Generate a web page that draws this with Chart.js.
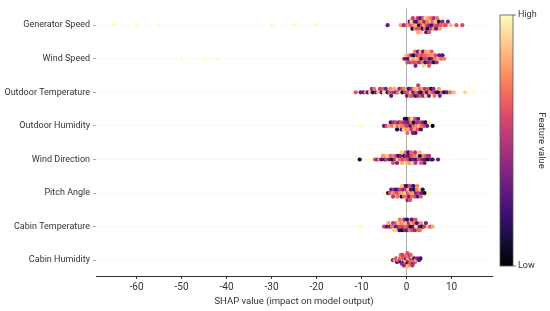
<!DOCTYPE html>
<html lang="en">
<head>
    <meta charset="UTF-8">
    <title>SHAP summary</title>
    <script src="https://cdn.jsdelivr.net/npm/chart.js"></script>
    <style>
        body { margin: 0; background: #fff; }
        canvas { display: block; }
    </style>
</head>
<body>
    <canvas id="shapChart" width="550" height="311"></canvas>

    <script>
        // features, top to bottom
        const features = ["Generator Speed", "Wind Speed", "Outdoor Temperature", "Outdoor Humidity",
                          "Wind Direction", "Pitch Angle", "Cabin Temperature", "Cabin Humidity"];

        // SHAP values per feature
        const genSpeedShap = [-65, -60, -55, -30, -25, -20, -4.2, -1.3, -0.6,
            0.1, 0.4, 0.7, 0.9, 1.1, 1.3, 1.4, 1.6, 1.8, 1.9,
            2.1, 2.2, 2.4, 2.5, 2.6, 2.8, 2.9, 3.0, 3.1, 3.2,
            3.4, 3.5, 3.6, 3.7, 3.9, 4.0, 4.1, 4.2, 4.4, 4.5,
            4.6, 4.7, 4.9, 5.0, 5.1, 5.3, 5.4, 5.5, 5.7, 5.8,
            6.0, 6.1, 6.3, 6.4, 6.6, 6.8, 7.0, 7.2, 7.4, 7.7,
            8.0, 8.3, 8.7, 9.2, 9.8, 11.1, 12.4];
        const windSpeedShap = [-50, -45, -42,
            -0.6, -0.3, 0.0, 0.2, 0.4, 0.6, 0.8, 1.0, 1.1, 1.3,
            1.5, 1.6, 1.8, 1.9, 2.0, 2.2, 2.3, 2.5, 2.6, 2.7,
            2.9, 3.0, 3.1, 3.3, 3.4, 3.5, 3.7, 3.8, 3.9, 4.1,
            4.2, 4.3, 4.5, 4.6, 4.8, 4.9, 5.0, 5.2, 5.3, 5.5,
            5.6, 5.8, 6.0, 6.1, 6.3, 6.5, 6.7, 7.0, 7.3, 7.7,
            8.0, 8.4];
        const outTempShap = [-11.3, -10.2, -9.6, -9.0, -8.6, -8.1, -7.7, -7.5, -7.2, -6.8,
            -6.3, -5.9, -5.5, -5.2, -5.0, -4.6, -4.2, -3.8, -3.6, -3.4,
            -3.0, -2.7, -2.3, -2.0, -1.6, -1.3, -1.0, -0.9, -0.6, -0.3,
            0.0, 0.1, 0.3, 0.5, 0.8, 1.0, 1.1, 1.3, 1.5, 1.7,
            2.0, 2.1, 2.2, 2.4, 2.6, 2.9, 3.0, 3.1, 3.3, 3.6,
            3.8, 4.0, 4.1, 4.3, 4.6, 4.9, 5.0, 5.2, 5.5, 5.9,
            6.0, 6.2, 6.6, 7.0, 7.2, 7.4, 7.9, 8.4, 9.0, 9.7,
            10.5, 13.0, 14.9];
        const outHumShap = [-10.0, -5.0, -4.4, -3.9, -3.5, -3.2, -2.9, -2.6, -2.4, -2.1,
            -1.9, -1.7, -1.5, -1.3, -1.1, -0.9, -0.7, -0.6, -0.4, -0.2,
            -0.1, 0.0, 0.1, 0.2, 0.3, 0.5, 0.6, 0.7, 0.9, 1.0,
            1.1, 1.2, 1.4, 1.5, 1.6, 1.8, 1.9, 2.0, 2.2, 2.3,
            2.5, 2.6, 2.8, 3.0, 3.2, 3.4, 3.6, 3.9, 4.2, 4.6,
            5.0, 5.8];
        const windDirShap = [-12.0, -10.4, -8.0, -7.0, -6.5, -6.0, -5.6, -5.2, -4.8, -4.5,
            -4.1, -3.8, -3.5, -3.2, -2.9, -2.6, -2.3, -2.0, -1.8, -1.5,
            -1.3, -1.0, -0.8, -0.5, -0.3, -0.1, 0.1, 0.3, 0.5, 0.7,
            0.9, 1.1, 1.3, 1.5, 1.8, 2.0, 2.2, 2.5, 2.7, 3.0,
            3.2, 3.5, 3.8, 4.1, 4.4, 4.7, 5.0, 5.4, 5.8, 7.0,
            -5.0, -3.0, -2.1, -1.1, -0.2, 0.4, 1.0, 1.9, 2.9, 4.0];
        const pitchShap = [-5.0, -4.1, -3.7, -3.4, -3.1, -2.8, -2.6, -2.3, -2.1, -1.9,
            -1.7, -1.5, -1.3, -1.1, -0.9, -0.8, -0.6, -0.4, -0.3, -0.1,
            0.0, 0.1, 0.3, 0.4, 0.6, 0.7, 0.9, 1.0, 1.2, 1.3,
            1.5, 1.7, 1.9, 2.1, 2.3, 2.5, 2.7, 3.0, 3.3, 3.6,
            4.0, 5.0, -2.0, -1.0, 0.2, 0.8, 1.6, 2.4, -3.0, 3.2];
        const cabTempShap = [-10.0, -5.0, -4.4, -4.0, -3.6, -3.3, -3.0, -2.7, -2.4, -2.2,
            -2.0, -1.8, -1.6, -1.4, -1.2, -1.0, -0.8, -0.6, -0.4, -0.2,
            0.0, 0.2, 0.3, 0.5, 0.7, 0.9, 1.1, 1.3, 1.5, 1.7,
            1.9, 2.1, 2.3, 2.6, 2.9, 3.2, 3.5, 3.9, 4.3, 4.8,
            5.3, 5.8, -1.5, -0.5, 0.6, 1.2, 2.0, -2.5, 0.1, 3.0];
        const cabHumShap = [-4.0, -3.0, -2.6, -2.3, -2.1, -1.9, -1.7, -1.5, -1.4, -1.2,
            -1.1, -1.0, -0.8, -0.7, -0.6, -0.5, -0.4, -0.3, -0.2, -0.1,
            0.0, 0.1, 0.2, 0.3, 0.4, 0.5, 0.6, 0.7, 0.8, 0.9,
            1.0, 1.1, 1.2, 1.4, 1.5, 1.7, 1.9, 2.1, 2.4, 2.8,
            3.1, -1.3, -0.9, -0.3, 0.2, 0.5, 0.9, 1.3, 0.0, -0.6];

        // normalised feature values (0 = low, 1 = high)
        const genSpeedVal = [1.0, 1.0, 1.0, 1.0, 1.0, 1.0, 0.3, 0.8, 0.45,
            0.6, 0.8, 0.25, 0.65, 0.9, 0.1, 0.55, 0.75, 0.35, 0.7,
            0.85, 0.2, 0.6, 0.5, 0.8, 0.05, 0.7, 0.65, 0.3, 0.88,
            0.55, 0.75, 0.15, 0.6, 0.82, 0.4, 0.68, 0.9, 0.25, 0.58,
            0.72, 0.1, 0.8, 0.62, 0.35, 0.85, 0.5, 0.7, 0.2, 0.66,
            0.78, 0.45, 0.6, 0.88, 0.3, 0.7, 0.55, 0.15, 0.8, 0.65,
            0.4, 0.72, 0.6, 0.35, 0.85, 0.62, 0.58];
        const windSpeedVal = [1.0, 1.0, 1.0,
            0.7, 0.3, 0.85, 0.6, 0.2, 0.75, 0.55, 0.9, 0.4, 0.65,
            0.8, 0.1, 0.6, 0.7, 0.35, 0.88, 0.5, 0.62, 0.25, 0.78,
            0.68, 0.45, 0.82, 0.05, 0.6, 0.72, 0.3, 0.9, 0.55, 0.66,
            0.2, 0.8, 0.58, 0.7, 0.4, 0.85, 0.62, 0.15, 0.75, 0.5,
            0.65, 0.35, 0.8, 0.1, 0.7, 0.6, 0.45, 0.82, 0.3, 0.68,
            0.25, 0.72];
        const outTempVal = [0.62, 0.3, 0.35, 0.8, 0.25, 0.9, 0.4, 0.15, 0.7, 0.3,
            0.85, 0.55, 0.2, 0.65, 0.95, 0.35, 0.1, 0.6, 0.75, 0.3,
            0.5, 0.8, 0.25, 0.68, 0.4, 0.9, 0.6, 0.05, 0.72, 0.55,
            0.82, 0.35, 0.62, 0.2, 0.7, 0.88, 0.45, 0.6, 0.3, 0.78,
            0.15, 0.65, 0.85, 0.4, 0.55, 0.25, 0.7, 0.6, 0.1, 0.8,
            0.35, 0.68, 0.5, 0.9, 0.2, 0.62, 0.3, 0.75, 0.05, 0.58,
            0.4, 0.7, 0.25, 0.1, 0.8, 0.35, 0.6, 0.15, 0.3, 0.7,
            0.85, 0.92, 1.0];
        const outHumVal = [1.0, 0.3, 0.6, 0.8, 0.2, 0.7, 0.45, 0.9, 0.55, 0.1,
            0.65, 0.35, 0.8, 0.6, 0.25, 0.72, 0.5, 0.88, 0.15, 0.62,
            0.4, 0.78, 0.05, 0.68, 0.55, 0.3, 0.85, 0.6, 0.2, 0.7,
            0.5, 0.92, 0.35, 0.65, 0.1, 0.8, 0.58, 0.25, 0.75, 0.45,
            0.62, 0.3, 0.85, 0.55, 0.2, 0.7, 0.4, 0.6, 0.1, 0.3,
            0.95, 0.05];
        const windDirVal = [1.0, 0.05, 1.0, 0.62, 0.4, 0.8, 0.25, 0.7, 0.15, 0.55,
            0.88, 0.3, 0.65, 0.1, 0.75, 0.45, 0.6, 0.9, 0.2, 0.7,
            0.35, 0.82, 0.55, 0.05, 0.68, 0.4, 0.85, 0.6, 0.25, 0.78,
            0.15, 0.62, 0.9, 0.3, 0.7, 0.5, 0.2, 0.8, 0.58, 0.1,
            0.65, 0.35, 0.75, 0.28, 0.6, 0.05, 0.45, 0.3, 0.2, 0.3,
            0.8, 0.6, 0.35, 0.9, 0.7, 0.2, 0.65, 0.5, 0.85, 0.3];
        const pitchVal = [1.0, 0.1, 0.6, 0.3, 0.8, 0.45, 0.7, 0.2, 0.88, 0.55,
            0.35, 0.75, 0.6, 0.05, 0.82, 0.4, 0.65, 0.25, 0.9, 0.5,
            0.7, 0.15, 0.62, 0.85, 0.3, 0.58, 0.78, 0.2, 0.68, 0.45,
            0.8, 0.1, 0.6, 0.35, 0.72, 0.25, 0.55, 0.9, 0.3, 0.15,
            0.05, 1.0, 0.7, 0.85, 0.4, 0.62, 0.2, 0.75, 0.5, 0.65];
        const cabTempVal = [1.0, 0.6, 0.3, 0.8, 0.15, 0.7, 0.5, 0.85, 0.25, 0.65,
            0.4, 0.9, 0.2, 0.62, 0.75, 0.05, 0.55, 0.8, 0.35, 0.7,
            0.88, 0.3, 0.6, 0.45, 0.72, 0.1, 0.82, 0.58, 0.25, 0.68,
            0.4, 0.9, 0.2, 0.65, 0.3, 0.75, 0.05, 0.55, 0.35, 0.85,
            0.6, 0.82, 0.7, 0.45, 0.8, 0.25, 0.62, 0.9, 0.15, 0.7];
        const cabHumVal = [1.0, 0.3, 0.8, 0.6, 0.2, 0.7, 0.88, 0.5, 0.65, 0.15,
            0.75, 0.4, 0.85, 0.6, 0.25, 0.7, 0.55, 0.9, 0.35, 0.8,
            0.62, 0.1, 0.72, 0.5, 0.85, 0.3, 0.68, 0.58, 0.2, 0.78,
            0.45, 0.65, 0.9, 0.35, 0.7, 0.25, 0.6, 0.8, 0.4, 0.3,
            0.2, 0.7, 0.55, 0.82, 0.6, 0.75, 0.65, 0.5, 0.88, 0.4];

        const shapValues = [genSpeedShap, windSpeedShap, outTempShap, outHumShap,
                            windDirShap, pitchShap, cabTempShap, cabHumShap];
        const featureValues = [genSpeedVal, windSpeedVal, outTempVal, outHumVal,
                               windDirVal, pitchVal, cabTempVal, cabHumVal];

        // magma colormap stops
        const magma = ["#000004", "#140e36", "#3b0f70", "#641a80", "#8c2981", "#b73779",
                       "#de4968", "#f7705c", "#fe9f6d", "#fecf92", "#fcfdbf"];

        function hexToRgb(h) {
            return [parseInt(h.slice(1, 3), 16), parseInt(h.slice(3, 5), 16), parseInt(h.slice(5, 7), 16)];
        }

        function magmaColor(t) {
            t = Math.max(0, Math.min(1, t));
            const p = t * (magma.length - 1);
            const i = Math.min(Math.floor(p), magma.length - 2);
            const f = p - i;
            const a = hexToRgb(magma[i]), b = hexToRgb(magma[i + 1]);
            const c = a.map((v, k) => Math.round(v + (b[k] - v) * f));
            return `rgb(${c[0]},${c[1]},${c[2]})`;
        }

        // beeswarm-style vertical offsets (same idea as shap's summary plot)
        function swarmOffsets(xs) {
            const q = xs.map(v => Math.round(v / 0.6));
            const order = xs.map((_, i) => i).sort((a, b) => q[a] - q[b] || a - b);
            const ys = new Array(xs.length).fill(0);
            let layer = 0, last = null;
            for (const i of order) {
                if (q[i] !== last) layer = 0;
                ys[i] = Math.ceil(layer / 2) * ((layer % 2) * 2 - 1);
                layer++;
                last = q[i];
            }
            const m = Math.max(1, ...ys.map(Math.abs));
            return ys.map(v => v / m * 0.21);
        }

        const n = features.length;
        const datasets = features.map((name, fi) => {
            const xs = shapValues[fi];
            const offs = swarmOffsets(xs);
            const row = n - 1 - fi;
            return {
                label: name,
                data: xs.map((x, i) => ({ x: x, y: row + offs[i] })),
                pointBackgroundColor: featureValues[fi].map(v => magmaColor(v)),
                pointBorderWidth: 0,
                pointRadius: 2.1,
                pointHoverRadius: 2.1
            };
        });

        const textColor = "#333333";
        const fontFamily = "Roboto, 'Noto Sans', sans-serif";

        // colour bar on the right
        const colorBar = {
            id: "colorBar",
            afterDraw(chart) {
                const ctx = chart.ctx;
                const x0 = 500, x1 = 513, y0 = 15, y1 = 266;
                ctx.save();
                const g = ctx.createLinearGradient(0, y1, 0, y0);
                magma.forEach((c, i) => g.addColorStop(i / (magma.length - 1), c));
                ctx.fillStyle = g;
                ctx.fillRect(x0, y0, x1 - x0, y1 - y0);
                ctx.strokeStyle = "#555";
                ctx.lineWidth = 0.8;
                ctx.strokeRect(x0, y0, x1 - x0, y1 - y0);
                ctx.beginPath();
                ctx.moveTo(x1, y0); ctx.lineTo(x1 + 3, y0);
                ctx.moveTo(x1, y1); ctx.lineTo(x1 + 3, y1);
                ctx.stroke();
                ctx.fillStyle = textColor;
                ctx.font = `9px ${fontFamily}`;
                ctx.textAlign = "left";
                ctx.textBaseline = "middle";
                ctx.fillText("High", x1 + 5, y0);
                ctx.fillText("Low", x1 + 5, y1);
                ctx.translate(541, (y0 + y1) / 2);
                ctx.rotate(Math.PI / 2);
                ctx.textAlign = "center";
                ctx.font = `9.5px ${fontFamily}`;
                ctx.fillText("Feature value", 0, 0);
                ctx.restore();
            }
        };

        new Chart(document.getElementById("shapChart"), {
            type: "scatter",
            data: { datasets: datasets },
            plugins: [colorBar],
            options: {
                responsive: false,
                animation: false,
                layout: { padding: { left: 0, right: 58, top: 5, bottom: 4 } },
                plugins: {
                    legend: { display: false },
                    tooltip: { enabled: false }
                },
                scales: {
                    x: {
                        type: "linear",
                        min: -69,
                        max: 19,
                        afterBuildTicks: (scale) => {
                            scale.ticks = scale.ticks.filter(t => t.value % 10 === 0);
                        },
                        afterFit: (scale) => { scale.height = 31; },
                        ticks: {
                            stepSize: 10,
                            color: textColor,
                            font: { family: fontFamily, size: 10 },
                            padding: 2,
                            maxRotation: 0
                        },
                        grid: {
                            color: (c) => (c.tick && c.tick.value === 0) ? "#b0b0b0" : "rgba(0,0,0,0)",
                            tickColor: textColor,
                            tickLength: 3,
                            lineWidth: 1
                        },
                        border: { display: true, color: textColor, width: 1 },
                        title: {
                            display: true,
                            text: "SHAP value (impact on model output)",
                            color: textColor,
                            font: { family: fontFamily, size: 9.5 },
                            padding: { top: 1, bottom: 0 }
                        }
                    },
                    y: {
                        type: "linear",
                        min: -0.47,
                        max: 7.5,
                        afterBuildTicks: (scale) => {
                            scale.ticks = features.map((_, i) => ({ value: i }));
                        },
                        afterFit: (scale) => { scale.width = 96; },
                        ticks: {
                            autoSkip: false,
                            color: textColor,
                            font: { family: fontFamily, size: 9 },
                            padding: 3,
                            callback: (v) => features[n - 1 - v]
                        },
                        grid: {
                            color: "#ececec",
                            lineWidth: 0.6,
                            tickColor: "#777",
                            tickLength: 3
                        },
                        border: { display: false, dash: [2, 2] }
                    }
                }
            }
        });
    </script>
</body>
</html>
